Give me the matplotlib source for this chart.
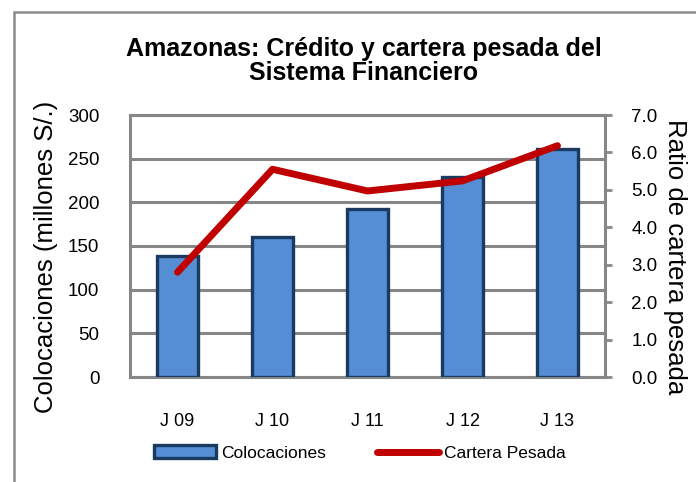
import matplotlib
matplotlib.use("Agg")
import matplotlib.pyplot as plt
from matplotlib.patches import Rectangle
from matplotlib.lines import Line2D
from matplotlib.patches import Patch

categories = ["J 09", "J 10", "J 11", "J 12", "J 13"]
colocaciones = [139, 160, 192, 229, 261]
cartera_pesada = [2.80, 5.55, 4.97, 5.24, 6.18]
left_ticks = [0, 50, 100, 150, 200, 250, 300]
right_ticks = [0.0, 1.0, 2.0, 3.0, 4.0, 5.0, 6.0, 7.0]

plt.rcParams['font.family'] = ['Liberation Sans', 'DejaVu Sans']

W, H = 696, 482
fig = plt.figure(figsize=(W / 100, H / 100), dpi=100)

# outer frame
fig.patches.append(Rectangle((14 / W, -0.1), 1.2, 1.1 - 12 / H, transform=fig.transFigure,
                             fill=False, edgecolor="#8c8c8c", linewidth=1.8))

ax = fig.add_axes([130 / W, 1 - 377 / H, (605 - 130) / W, (377 - 115) / H])
grid_c = "#878787"
x = list(range(len(categories)))
ax.bar(x, colocaciones, width=0.44, color="#558ED5", edgecolor="#1B3A62", linewidth=2.4, zorder=3)
ax.set_xlim(-0.5, len(categories) - 0.5)
ax.set_ylim(0, 300)
ax.set_yticks(left_ticks)
ax.set_yticklabels([str(t) for t in left_ticks], fontsize=13.5)
ax.yaxis.grid(True, color=grid_c, linewidth=2.2, zorder=0)
ax.set_axisbelow(True)
ax.set_xticks(x)
ax.set_xticklabels(categories, fontsize=13)
ax.tick_params(axis='x', length=0, pad=26)
ax.tick_params(axis='y', length=0, pad=22)
for s in ["left", "bottom", "top"]:
    ax.spines[s].set_color(grid_c)
    ax.spines[s].set_linewidth(2.2)
ax.spines["right"].set_visible(False)
ax.set_ylabel("Colocaciones (millones S/.)", fontsize=18.5)
ax.yaxis.set_label_coords(-0.152, 0.46)

ax2 = ax.twinx()
ax2.plot(x, cartera_pesada, color="#C00000", linewidth=5, solid_capstyle="round", zorder=5)
ax2.set_ylim(0, 7)
ax2.set_yticks(right_ticks)
ax2.set_yticklabels([f"{t:.1f}" for t in right_ticks], fontsize=13.5)
ax2.tick_params(axis='y', length=5, width=2, color=grid_c, pad=14, direction='out')
for s in ["left", "bottom", "top"]:
    ax2.spines[s].set_visible(False)
ax2.spines["right"].set_color(grid_c)
ax2.spines["right"].set_linewidth(2.2)
ax2.set_ylabel("Ratio de cartera pesada", fontsize=18.5, rotation=-90, va="bottom")
ax2.yaxis.set_label_coords(1.122, 0.46)

fig.text(364 / W, 1 - 61 / H, "Amazonas: Crédito y cartera pesada del\nSistema Financiero",
         ha="center", va="center", fontsize=18, fontweight="bold", linespacing=0.95)

handles = [Patch(facecolor="#558ED5", edgecolor="#1B3A62", linewidth=2.4),
           Line2D([0], [0], color="#C00000", linewidth=5, solid_capstyle="round")]
fig.legend(handles, ["Colocaciones", "Cartera Pesada"], loc="center", bbox_to_anchor=(360 / W, 1 - 453 / H),
           ncol=2, frameon=False, handlelength=3.6, handleheight=0.75,
           handletextpad=0.3, columnspacing=2.9, prop={'size': 12.5})

fig.savefig("out.png", dpi=100)
